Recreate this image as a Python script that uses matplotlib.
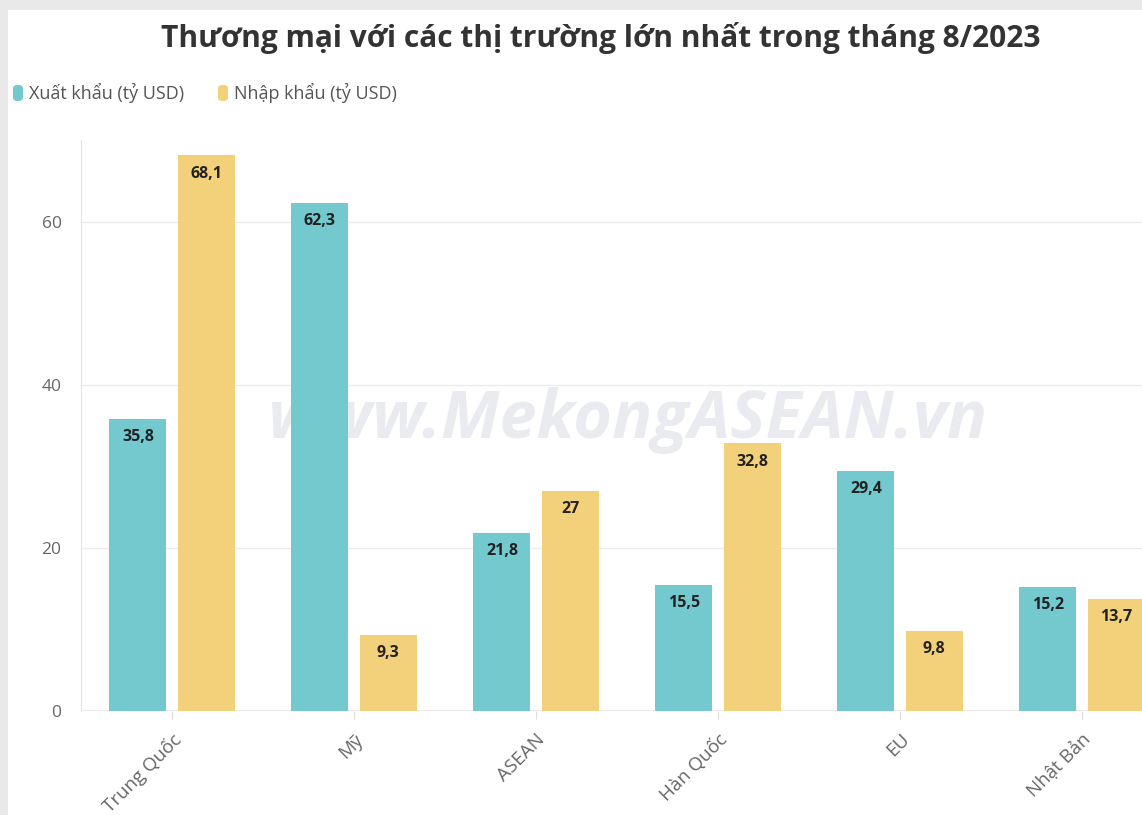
import matplotlib
matplotlib.use("Agg")
import matplotlib.pyplot as plt
from matplotlib.patches import FancyBboxPatch, Rectangle
import numpy as np

categories = ["Trung Quốc", "Mỹ", "ASEAN", "Hàn Quốc", "EU", "Nhật Bản"]
export_vals = [35.8, 62.3, 21.8, 15.5, 29.4, 15.2]
import_vals = [68.1, 9.3, 27.0, 32.8, 9.8, 13.7]
export_labels = ["35,8", "62,3", "21,8", "15,5", "29,4", "15,2"]
import_labels = ["68,1", "9,3", "27", "32,8", "9,8", "13,7"]
series_names = ["Xuất khẩu (tỷ USD)", "Nhập khẩu (tỷ USD)"]
yticks = [0, 20, 40, 60]

TEAL = "#74C9CF"
YELLOW = "#F3D07A"
FONT = ["Open Sans", "DejaVu Sans"]
plt.rcParams["font.family"] = FONT

W, H = 1142, 815
fig = plt.figure(figsize=(W / 100, H / 100), dpi=100)
fig.patch.set_facecolor("#e9e9e9")
# white panel
panel = Rectangle((8 / W, 0), 1 - 8 / W, 1 - 10 / H, transform=fig.transFigure,
                  facecolor="white", edgecolor="none", zorder=-10)
fig.add_artist(panel)

# watermark
fig.text(628 / W, 1 - 421 / H, "www.MekongASEAN.vn", ha="center", va="center",
         fontsize=48, fontweight="bold", style="italic", color="#eaebf1", zorder=-5)

left = 81 / W
bottom = 1 - 711 / H
top = 1 - 140 / H
ax = fig.add_axes([left, bottom, 1 - left, top - bottom])
ax.set_facecolor("none")
ax.set_zorder(1)

x = np.arange(len(categories))
bw = 0.313
off = 0.187
b1 = ax.bar(x - off, export_vals, bw, color=TEAL, zorder=3)
b2 = ax.bar(x + off, import_vals, bw, color=YELLOW, zorder=3)

for bars, labs in ((b1, export_labels), (b2, import_labels)):
    for r, lab in zip(bars, labs):
        ax.annotate(lab, (r.get_x() + r.get_width() / 2, r.get_height()),
                    xytext=(0, -13), textcoords="offset points", ha="center", va="center",
                    fontsize=11.5, fontweight="bold", color="#222222", zorder=4)

ax.set_xlim(-0.5, (W - 81) / 182 - 0.5)
ax.set_ylim(0, 70)
ax.set_yticks(yticks)
ax.set_yticklabels([str(v) for v in yticks], fontsize=12.5, color="#666666")
ax.set_xticks(x)
ax.set_xticklabels(categories, rotation=45, ha="right", rotation_mode="anchor",
                   fontsize=13.5, color="#666666")
ax.tick_params(axis="y", length=0, pad=14)
ax.tick_params(axis="x", length=6, color="#dddddd", pad=8)
ax.grid(axis="y", color="#ececec", linewidth=1, zorder=1)
for s in ["top", "right", "bottom"]:
    ax.spines[s].set_visible(False)
ax.spines["left"].set_color("#e6e6e6")
ax.axhline(0, color="#e6e6e6", linewidth=1.2, zorder=2)

# title
fig.text(601 / W, 1 - 38 / H, "Thương mại với các thị trường lớn nhất trong tháng 8/2023",
         ha="center", va="center", fontsize=21.5, fontweight="bold", color="#333333")

# legend
lx = [13, 218]
for i, (name, col) in enumerate(zip(series_names, [TEAL, YELLOW])):
    fig.add_artist(FancyBboxPatch((lx[i] / W, 1 - 101 / H), 10 / W, 16 / H,
                                  boxstyle="round,pad=0,rounding_size=0.004",
                                  transform=fig.transFigure, facecolor=col,
                                  edgecolor="none", zorder=2))
    fig.text((lx[i] + 16) / W, 1 - 93 / H, name, ha="left", va="center",
             fontsize=13, color="#555555")

fig.savefig("out.png", dpi=100, facecolor=fig.get_facecolor())
